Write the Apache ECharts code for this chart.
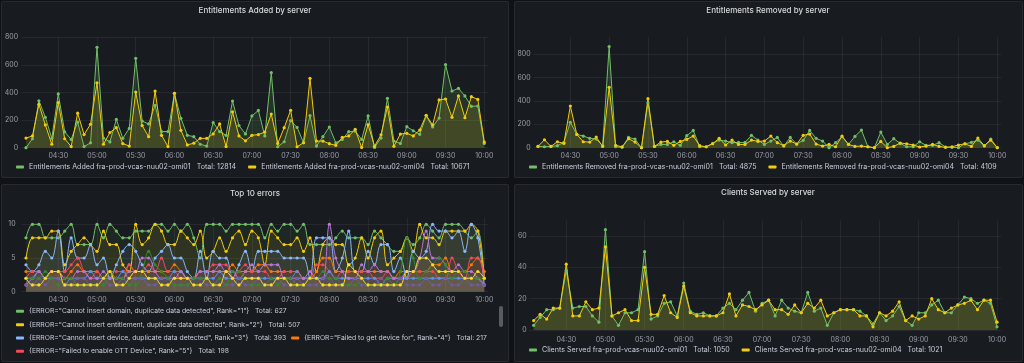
<!DOCTYPE html>
<html><head><meta charset="utf-8">
<script src="https://cdn.jsdelivr.net/npm/echarts@6/dist/echarts.min.js"></script>
<style>
html,body{margin:0;padding:0;background:#111217;width:1024px;height:363px;overflow:hidden;}
.panel{position:absolute;background:#181b1f;border:1px solid rgba(204,204,220,0.09);border-radius:2px;box-sizing:border-box;}
#chart{position:absolute;left:0;top:0;width:1024px;height:363px;}
.scroll{position:absolute;left:499px;top:306px;width:4px;height:21px;border-radius:2px;background:#5a5b61;}
</style></head><body>
<div class="panel" style="left:1px;top:1px;width:508px;height:177px"></div>
<div class="panel" style="left:514px;top:1px;width:509px;height:177px"></div>
<div class="panel" style="left:1px;top:184px;width:508px;height:178px"></div>
<div class="panel" style="left:514px;top:184px;width:509px;height:178px"></div>
<div class="scroll"></div>
<div id="chart"></div>
<script>
// ---- data ----
const times = ['04:05','04:10','04:15','04:20','04:25','04:30','04:35','04:40','04:45','04:50','04:55',
'05:00','05:05','05:10','05:15','05:20','05:25','05:30','05:35','05:40','05:45','05:50','05:55',
'06:00','06:05','06:10','06:15','06:20','06:25','06:30','06:35','06:40','06:45','06:50','06:55',
'07:00','07:05','07:10','07:15','07:20','07:25','07:30','07:35','07:40','07:45','07:50','07:55',
'08:00','08:05','08:10','08:15','08:20','08:25','08:30','08:35','08:40','08:45','08:50','08:55',
'09:00','09:05','09:10','09:15','09:20','09:25','09:30','09:35','09:40','09:45','09:50','09:55',
'10:00'];
const xTickLabels = ['04:30','05:00','05:30','06:00','06:30','07:00','07:30','08:00','08:30','09:00','09:30','10:00'];

const addedOmi01 = [0,65,340,220,68,390,115,60,185,8,35,728,70,42,205,68,140,648,193,172,307,117,117,394,213,90,80,25,12,182,117,90,338,160,100,230,270,85,544,7,43,196,147,36,232,12,80,150,36,60,116,120,60,230,2,70,358,48,31,152,123,97,230,150,215,602,411,430,375,300,302,31];
const addedOmi04 = [70,85,315,165,25,327,65,8,250,95,170,470,25,110,145,30,12,403,160,80,410,90,8,394,126,20,33,68,68,100,172,8,260,85,50,90,95,113,244,31,145,271,7,36,503,48,48,29,17,75,85,133,2,167,10,94,295,10,99,104,85,128,235,165,346,353,220,375,217,370,350,41];

const removedOmi01 = [11,8,11,17,45,217,114,100,80,74,17,866,8,3,88,74,0,385,11,28,28,51,20,103,148,8,8,37,65,57,43,45,45,106,65,28,57,88,14,88,31,63,148,80,57,0,43,94,28,97,151,8,0,134,28,77,37,8,8,51,20,20,43,6,3,0,34,45,65,14,74,0];
const removedOmi04 = [11,68,11,51,37,357,114,51,48,91,11,517,20,8,77,48,0,420,11,48,54,20,54,71,100,17,8,34,80,23,65,28,28,65,54,57,100,43,17,57,31,106,117,31,14,28,8,100,28,11,14,8,0,54,0,11,40,34,23,6,14,28,11,3,8,23,34,11,83,17,65,0];

const clientsOmi01 = [3,8,13,13,14,38,14,15,15,9,5,64,9,3,11,11,13,50,7,9,17,18,9,30,12,10,11,9,9,14,17,13,19,24,12,17,19,9,19,14,12,11,24,12,14,3,11,13,13,13,12,9,4,11,6,9,15,6,3,11,11,16,19,11,11,16,21,20,17,19,17,2];
const clientsOmi04 = [6,10,7,14,14,42,9,9,18,13,14,53,9,11,13,6,6,40,10,10,22,11,8,28,11,9,9,9,9,11,23,9,16,15,13,16,19,13,13,10,16,11,17,14,19,9,11,13,13,13,9,9,2,11,9,12,18,6,9,7,9,20,13,11,14,16,17,19,13,19,19,5];

const err1 = [8,10,10,8,8,8,9,10,7,7, 7,10,8,10,9,8,8,9,9,9, 10,10,9,10,9,10,8,5,10,10, 10,9,10,10,10,10,10,8,10,9, 10,10,9,10,7,7,7,7,8,9, 8,8,8,7,9,8,7,6,6,8, 7,8,10,9,8,10,10,10,9,8, 9,2];
const err2 = [5,8,8,8,9,9,4,6,7,8, 7,6,9,7,7,4,3,10,7,8, 10,9,7,7,9,8,7,9,5,6, 8,6,8,9,7,9,8,4,9,8, 7,7,8,6,8,3,7,8,7,7, 4,5,8,5,8,9,4,5,6,8, 6,10,8,8,7,9,9,9,9,10, 9,2];
const err3 = [4,3,4,6,5,9,3,8,5,5, 7,4,5,2,4,6,7,6,4,3, 5,6,7,5,5,3,2,6,2,6, 5,5,2,4,6,3,6,6,6,6, 5,5,5,5,2,8,8,8,3,5, 9,3,3,6,4,7,7,3,5,2, 6,5,6,10,9,9,8,9,6,10, 8,1];
const err4 = [3,3,3,2,3,3,2,3,4,3, 3,3,2,3,2,2,4,3,3,3, 3,3,3,4,3,2,2,3,3,3, 3,3,4,3,3,3,4,4,3,3, 3,3,3,2,2,3,5,5,3,3, 3,3,3,3,3,3,3,2,3,3, 3,3,3,4,4,5,3,3,3,4, 5,3];
const err5 = [2,3,3,2,3,3,3,4,5,3, 2,3,2,3,3,3,4,3,3,4, 3,5,3,3,2,2,2,3,3,4, 4,4,2,3,4,3,3,3,2,2, 3,3,3,2,2,4,4,3,2,3, 3,3,3,3,2,2,3,2,2,2, 3,3,3,3,2,2,5,3,2,5, 5,2];
const err6 = [2,2,3,2,2,2,1,2,2,2, 3,2,2,2,2,3,2,2,2,2, 2,2,2,3,3,2,2,2,2,2, 3,2,2,2,2,2,2,2,2,2, 2,2,3,2,2,2,2,3,2,2, 2,2,2,2,2,1,2,2,2,2, 2,2,2,2,2,2,2,2,2,2, 2,1];
const err7 = [1,2,3,2,3,3,2,2,3,3, 2,2,3,2,2,2,3,3,5,5, 3,2,2,2,3,2,2,3,3,3, 4,3,3,2,3,4,3,4,4,4, 2,2,2,2,3,2,2,10,5,3, 2,2,4,3,4,3,3,2,2,3, 3,5,9,5,5,4,3,4,3,3, 2,1];
const err8 = [1,1,2,1,2,2,1,1,2,2, 1,1,2,1,1,2,1,2,2,1, 1,2,2,1,1,1,2,2,1,1, 2,1,1,2,1,1,2,1,1,2, 1,1,2,1,1,1,2,2,1,1, 1,2,1,1,1,2,1,1,2,1, 1,1,2,1,1,2,1,1,2,1, 1,1];
const err9 = [2,2,2,3,2,1,2,2,1,1, 1,1,1,3,2,2,1,1,3,6, 4,3,2,1,1,1,2,2,2,1, 2,1,3,3,2,1,1,1,2,1, 2,2,1,1,2,2,3,2,2,1, 1,1,2,1,1,1,2,1,3,8, 5,2,3,4,5,4,2,3,3,2, 2,2];
const err10 = [2,1,1,2,3,3,1,1,1,1, 1,1,2,3,1,1,2,3,3,2, 2,1,1,2,2,2,1,1,2,1, 1,3,2,1,2, 2,2,1,1,2,2,1,1,1,2, 2,1,1,1,1,4,3,2,1,1, 1,1,1,1,3,3,5,5,4,3, 3,3,3,2,2,3,2];

const errNames = [
 '{ERROR="Cannot insert domain, duplicate data detected", Rank="1"}',
 '{ERROR="Cannot insert entitlement, duplicate data detected", Rank="2"}',
 '{ERROR="Cannot insert device, duplicate data detected", Rank="3"}',
 '{ERROR="Failed to get device for", Rank="4"}',
 '{ERROR="Failed to enable OTT Device", Rank="5"}',
 '{ERROR="Failed to get domain", Rank="6"}',
 '{ERROR="Failed to get entitlement", Rank="7"}',
 '{ERROR="Failed to remove device", Rank="8"}',
 '{ERROR="Failed to remove entitlement", Rank="9"}',
 '{ERROR="Failed to update domain", Rank="10"}'
];
const errTotals = [627, 507, 393, 217, 198, 180, 170, 100, 150, 140];

const addedNames = ['Entitlements Added fra-prod-vcas-nuu02-omi01','Entitlements Added fra-prod-vcas-nuu02-omi04'];
const addedTotals = [12814, 10671];
const removedNames = ['Entitlements Removed fra-prod-vcas-nuu02-omi01','Entitlements Removed fra-prod-vcas-nuu02-omi04'];
const removedTotals = [4875, 4109];
const clientsNames = ['Clients Served fra-prod-vcas-nuu02-omi01','Clients Served fra-prod-vcas-nuu02-omi04'];
const clientsTotals = [1050, 1021];

const titles = ['Entitlements Added by server','Entitlements Removed by server','Top 10 errors','Clients Served by server'];
const yTicks = [[0,200,400,600,800],[0,200,400,600,800],[0,5,10],[0,20,40,60]];

// ---- styling / build ----
const palette = ['#73BF69','#F2CC0C','#8AB8FF','#FF780A','#F2495C','#5794F2','#B877D9','#705DA0','#37872D','#FADE2A'];
const FONT = 'Inter, "Noto Sans", sans-serif';
const toMin = s => (+s.slice(0,2))*60 + (+s.slice(3));
const xMin = 241.6, xMax = 603.2;
const xTickVals = xTickLabels.map(toMin);
const pad = n => (n<10?'0':'')+n;
const fmtTime = v => pad(Math.floor(v/60)) + ':' + pad(Math.round(v%60));
const gridColor = 'rgba(204,204,220,0.08)';
const labelColor = 'rgba(204,204,220,0.72)';

const grids = [
  {left:21.6, top:37.3, width:466.8, height:110.4},
  {left:533.6, top:36.8, width:467.8, height:110.9},
  {left:21.6, top:217.6, width:466.8, height:74.1},
  {left:529.2, top:220.3, width:472, height:109.7}
].map(g => Object.assign({outerBoundsMode:'none', containLabel:false, show:false}, g));
const yMax = [800, 950, 11, 70];
const yMargin = [3.5, 3, 6, 2.5];
const xMargin = [5, 5, 5, 6];

const xAxes = grids.map((g,i) => ({
  type:'value', gridIndex:i, min:xMin, max:xMax,
  axisLine:{show:false}, axisTick:{show:false, customValues:xTickVals},
  splitLine:{show:true, lineStyle:{color:gridColor, width:1}},
  axisLabel:{customValues:xTickVals, formatter:fmtTime, color:labelColor, fontSize:7, fontFamily:FONT, margin:xMargin[i]}
}));
const yAxes = grids.map((g,i) => ({
  type:'value', gridIndex:i, min:0, max:yMax[i],
  axisLine:{show:false}, axisTick:{show:false, customValues:yTicks[i]},
  splitLine:{show:true, lineStyle:{color:gridColor, width:1}},
  axisLabel:{customValues:yTicks[i], color:labelColor, fontSize:7, fontFamily:FONT, margin:yMargin[i]}
}));

function mk(name, vals, color, gi, smooth, op) {
  return {
    name, type:'line', xAxisIndex:gi, yAxisIndex:gi,
    data: times.map((t,k) => [toMin(t), vals[k]]),
    smooth: smooth, symbol:'circle', symbolSize:3.2, showSymbol:true, showAllSymbol:true,
    lineStyle:{width:1, color}, itemStyle:{color}, areaStyle:{color, opacity:op},
    emphasis:{disabled:true}, silent:true, animation:false
  };
}
const series = [
  mk(addedNames[0], addedOmi01, palette[0], 0, false, 0.14),
  mk(addedNames[1], addedOmi04, palette[1], 0, false, 0.14),
  mk(removedNames[0], removedOmi01, palette[0], 1, false, 0.14),
  mk(removedNames[1], removedOmi04, palette[1], 1, false, 0.14),
  mk(clientsNames[0], clientsOmi01, palette[0], 3, false, 0.14),
  mk(clientsNames[1], clientsOmi04, palette[1], 3, false, 0.14)
];
const errData = [err1,err2,err3,err4,err5,err6,err7,err8,err9,err10];
errData.forEach((d,i) => series.push(mk(errNames[i], d, palette[i], 2, 0.35, 0.08)));

const totals = {};
addedNames.forEach((n,i)=>totals[n]=addedTotals[i]);
removedNames.forEach((n,i)=>totals[n]=removedTotals[i]);
clientsNames.forEach((n,i)=>totals[n]=clientsTotals[i]);
errNames.forEach((n,i)=>totals[n]=errTotals[i]);

function leg(names, left, cy, gap, fs) {
  return {
    data:names, left:left, top:cy-4.5, orient:'horizontal', itemWidth:8, itemHeight:3, icon:'roundRect',
    itemGap:gap, selectedMode:false, padding:0,
    textStyle:{color:'#ccccdc', fontSize:fs, fontFamily:FONT},
    formatter: n => n + '   Total: ' + totals[n]
  };
}
const legends = [
  leg(addedNames, 16, 168, 12, 7.1),
  leg(removedNames, 529, 168, 12, 7.1),
  leg([errNames[0]], 16, 312.3, 5, 6.8),
  leg([errNames[1]], 16, 325.7, 5, 6.8),
  leg([errNames[2], errNames[3]], 16, 339, 5, 6.8),
  leg([errNames[4]], 16, 352.3, 5, 6.8),
  leg(clientsNames, 529, 351, 12, 7.1)
];

const titleCfg = [[255,12],[768,12],[255,194.3],[768,194]].map((p,i) => ({
  text:titles[i], left:p[0], top:p[1]-5, textAlign:'center', padding:0,
  textStyle:{color:'#d8d9da', fontSize:8, fontWeight:500, fontFamily:FONT}
}));

const chart = echarts.init(document.getElementById('chart'), null, {renderer:'canvas'});
chart.setOption({
  backgroundColor:'transparent', animation:false,
  title:titleCfg, grid:grids, xAxis:xAxes, yAxis:yAxes, legend:legends, series:series
});
</script>
</body></html>
